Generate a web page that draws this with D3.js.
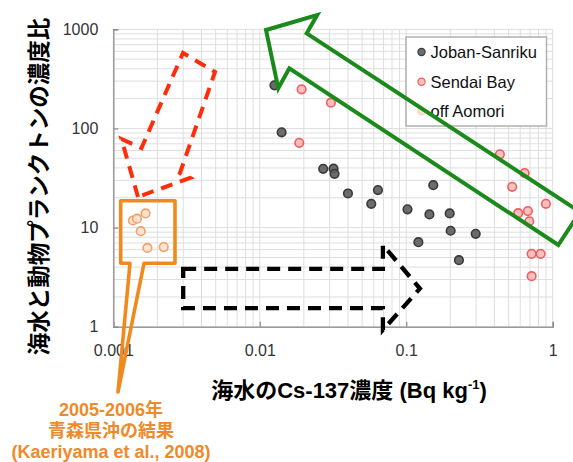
<!DOCTYPE html>
<html>
<head>
<meta charset="utf-8">
<script src="https://cdn.jsdelivr.net/npm/d3@7/dist/d3.min.js"></script>
<style>
  html, body { margin: 0; padding: 0; background: #fff; }
  svg { display: block; }
  text { font-family: "Liberation Sans", "Noto Sans CJK JP", sans-serif; }
</style>
</head>
<body>
<svg id="chart" width="573" height="462"></svg>
<script>
// Cs-137 in seawater (Bq/kg) vs. zooplankton/seawater concentration ratio
const jobanX = [0.0126, 0.0141, 0.0271, 0.0319, 0.0324, 0.040, 0.0641, 0.0577, 0.153, 0.102, 0.144, 0.198, 0.201, 0.298, 0.121, 0.229];
const jobanY = [272, 91.4, 39.2, 39.3, 34.9, 22.1, 23.9, 17.4, 26.8, 15.3, 13.6, 13.9, 9.3, 8.66, 7.14, 4.70];

const sendaiX = [0.0193, 0.0306, 0.0186, 0.436, 0.643, 0.529, 0.899, 0.581, 0.677, 0.692, 0.718, 0.827, 0.718];
const sendaiY = [248, 182, 71.7, 54.8, 35.5, 25.8, 17.4, 14.0, 14.7, 11.6, 5.44, 5.44, 3.24];

const aomoriX = [0.00136, 0.00145, 0.00166, 0.00154, 0.00171, 0.00221];
const aomoriY = [11.8, 12.3, 13.9, 9.22, 6.25, 6.36];

const seriesNames = ["Joban-Sanriku", "Sendai Bay", "off Aomori"];
const xTickValues = [0.001, 0.01, 0.1, 1];
const yTickValues = [1, 10, 100, 1000];

const xTitle = "海水のCs-137濃度 (Bq kg";
const yTitle = "海水と動物プランクトンの濃度比";
const noteLines = ["2005-2006年", "青森県沖の結果", "(Kaeriyama et al., 2008)"];

// Annotation outlines, in data units [Cs-137, ratio]
const redArrow = [[0.001474, 20.4], [0.001137, 78.3], [0.001558, 63.5], [0.002991, 577], [0.004948, 371], [0.002853, 35.6], [0.00334, 31.7]];
const blackArrow = [[0.003, 3.83], [0.0693, 3.83], [0.0693, 6.68], [0.124, 2.43], [0.0693, 0.93], [0.0693, 1.54], [0.003, 1.54]];
const greenArrow = [[0.01103, 984], [0.02466, 1394], [0.02091, 911], [1.536, 14.38], [1.092, 6.68], [0.01591, 404], [0.01338, 254]];
const callout = [[0.0013, 4.37], [0.001077, 0.22], [0.00162, 4.37], [0.002638, 4.37], [0.002638, 18.7], [0.001123, 18.7], [0.001123, 4.37]];

const svg = d3.select("#chart");
svg.append("rect").attr("width", 573).attr("height", 462).attr("fill", "#fff");

const x = d3.scaleLog().domain([0.001, 1]).range([113.3, 552.7]);
const y = d3.scaleLog().domain([1, 1000]).range([326.8, 29.3]);

// grid: every 1..9 step of each decade
const grid = svg.append("g");
grid.selectAll("line.v").data(x.ticks()).join("line")
  .attr("x1", d => x(d)).attr("x2", d => x(d))
  .attr("y1", y(1000)).attr("y2", y(1))
  .attr("stroke", "#dedede").attr("stroke-width", 1);
grid.selectAll("line.h").data(y.ticks()).join("line")
  .attr("x1", x(0.001)).attr("x2", x(1))
  .attr("y1", d => y(d)).attr("y2", d => y(d))
  .attr("stroke", "#dedede").attr("stroke-width", 1);

// axes
const fmt = d3.format("~g");
const xAxis = svg.append("g").attr("transform", `translate(0,${y(1)})`)
  .call(d3.axisBottom(x).tickValues(xTickValues).tickFormat(fmt).tickSize(-5).tickPadding(18));
const yAxis = svg.append("g").attr("transform", `translate(${x(0.001)},0)`)
  .call(d3.axisLeft(y).tickValues(yTickValues).tickFormat(fmt).tickSize(-5).tickPadding(15));
[xAxis, yAxis].forEach(a => {
  a.select(".domain").attr("stroke", "#9a9a9a").attr("stroke-width", 1.5);
  a.selectAll(".tick line").attr("stroke", "#8a8a8a").attr("stroke-width", 1.2);
  a.selectAll(".tick text").attr("font-size", 16).attr("fill", "#333")
    .attr("font-family", "Liberation Sans, sans-serif");
});

// points
const styles = [
  { fill: "rgba(95,95,95,0.92)", stroke: "#3a3a3a" },
  { fill: "rgba(242,160,162,0.65)", stroke: "rgba(240,70,72,0.85)" },
  { fill: "rgba(253,226,205,0.9)", stroke: "#f2a168" }
];
const sets = [
  d3.zip(jobanX, jobanY),
  d3.zip(sendaiX, sendaiY),
  d3.zip(aomoriX, aomoriY)
];
sets.forEach((pts, i) => {
  svg.append("g").selectAll("circle").data(pts).join("circle")
    .attr("cx", d => x(d[0])).attr("cy", d => y(d[1])).attr("r", 4.3)
    .attr("fill", styles[i].fill).attr("stroke", styles[i].stroke).attr("stroke-width", 1.6);
});

// legend
const leg = svg.append("g").attr("transform", "translate(406,37)");
leg.append("rect").attr("width", 140.5).attr("height", 89)
  .attr("fill", "#fff").attr("stroke", "#b0b0b0").attr("stroke-width", 1.5);
seriesNames.forEach((name, i) => {
  const row = leg.append("g").attr("transform", `translate(0,${15 + i * 29.7})`);
  row.append("circle").attr("cx", 15.5).attr("cy", 0).attr("r", 3.6)
    .attr("fill", styles[i].fill).attr("stroke", i === 2 ? "#f7cfae" : styles[i].stroke).attr("stroke-width", 1.2);
  row.append("text").attr("x", 24.5).attr("y", 0).attr("dy", "0.36em")
    .attr("font-size", 16.5).attr("fill", "#111").text(name);
});

// annotation shapes
const line = d3.line().x(d => x(d[0])).y(d => y(d[1]));
svg.append("path").attr("d", line(blackArrow) + "Z")
  .attr("fill", "none").attr("stroke", "#000").attr("stroke-width", 4.3)
  .attr("stroke-dasharray", "13 8");
svg.append("path").attr("d", line(redArrow) + "Z")
  .attr("fill", "none").attr("stroke", "#ff2d0a").attr("stroke-width", 4)
  .attr("stroke-dasharray", "12 8");
svg.append("path").attr("d", line(greenArrow) + "Z")
  .attr("fill", "none").attr("stroke", "#1a8a1a").attr("stroke-width", 4);
svg.append("path").attr("d", line(callout) + "Z")
  .attr("fill", "none").attr("stroke", "#f08a1e").attr("stroke-width", 3.6)
  .attr("stroke-linejoin", "round");

// axis titles
const xt = svg.append("text").attr("x", 349).attr("y", 398)
  .attr("text-anchor", "middle").attr("font-size", 22).attr("font-weight", "bold").attr("fill", "#000");
xt.append("tspan").text(xTitle);
xt.append("tspan").attr("font-size", 13).attr("dy", -9).text("-1");
xt.append("tspan").attr("dy", 9).text(")");

svg.append("text")
  .attr("transform", "translate(39,186.5) rotate(-90)")
  .attr("text-anchor", "middle").attr("dy", "0.36em")
  .attr("font-size", 22.5).attr("font-weight", "bold").attr("fill", "#000")
  .text(yTitle);

// note under the callout
svg.append("g").selectAll("text").data(noteLines).join("text")
  .attr("x", 111).attr("y", (d, i) => 416 + i * 21)
  .attr("text-anchor", "middle").attr("font-size", 18).attr("font-weight", "bold")
  .attr("fill", "#ee8a2a").text(d => d);
</script>
</body>
</html>
